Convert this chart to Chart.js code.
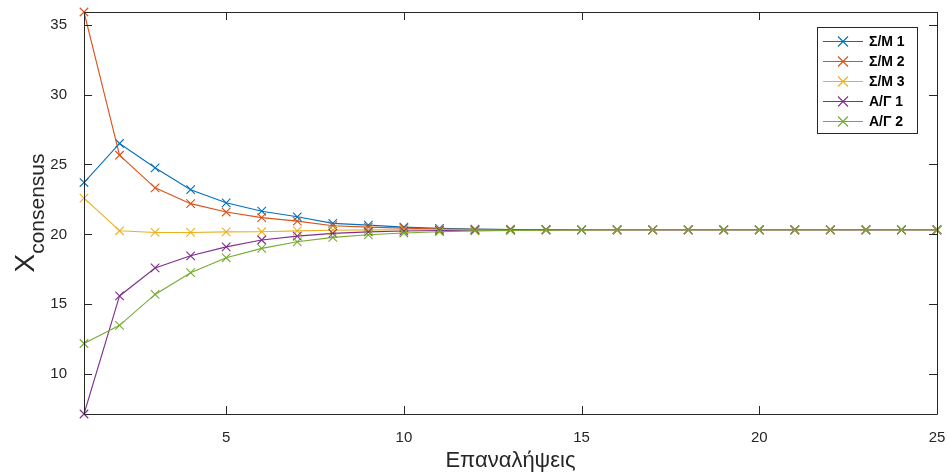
<!DOCTYPE html>
<html>
<head>
<meta charset="utf-8">
<script src="https://cdn.jsdelivr.net/npm/chart.js@4"></script>
<style>
  html, body { margin: 0; padding: 0; background: #fff; }
  #wrap { width: 948px; height: 476px; }
</style>
</head>
<body>
<div id="wrap"><canvas id="c" width="948" height="476"></canvas></div>
<script>
const iterations = Array.from({ length: 25 }, (_, i) => i + 1);

const sm1 = [23.71, 26.50, 24.76, 23.20, 22.26, 21.66, 21.26, 20.79, 20.66, 20.52, 20.43, 20.38, 20.35, 20.34, 20.33, 20.33, 20.33, 20.33, 20.33, 20.33, 20.33, 20.33, 20.33, 20.33, 20.33];
const sm2 = [35.90, 25.66, 23.33, 22.20, 21.60, 21.20, 20.95, 20.62, 20.52, 20.45, 20.39, 20.36, 20.35, 20.34, 20.33, 20.33, 20.33, 20.33, 20.33, 20.33, 20.33, 20.33, 20.33, 20.33, 20.33];
const sm3 = [22.60, 20.26, 20.14, 20.14, 20.18, 20.19, 20.25, 20.30, 20.32, 20.33, 20.33, 20.33, 20.33, 20.33, 20.33, 20.33, 20.33, 20.33, 20.33, 20.33, 20.33, 20.33, 20.33, 20.33, 20.33];
const ag1 = [7.16, 15.60, 17.60, 18.47, 19.11, 19.60, 19.88, 20.07, 20.18, 20.24, 20.28, 20.30, 20.32, 20.33, 20.33, 20.33, 20.33, 20.33, 20.33, 20.33, 20.33, 20.33, 20.33, 20.33, 20.33];
const ag2 = [12.20, 13.50, 15.71, 17.26, 18.33, 19.00, 19.47, 19.79, 19.97, 20.10, 20.19, 20.25, 20.28, 20.30, 20.32, 20.33, 20.33, 20.33, 20.33, 20.33, 20.33, 20.33, 20.33, 20.33, 20.33];

const seriesNames = ['Σ/Μ 1', 'Σ/Μ 2', 'Σ/Μ 3', 'Α/Γ 1', 'Α/Γ 2'];
const seriesColors = ['#0072BD', '#D95319', '#EDB120', '#7E2F8E', '#77AC30'];
const xTicks = [5, 10, 15, 20, 25];
const yTicks = [10, 15, 20, 25, 30, 35];

const allSeries = [sm1, sm2, sm3, ag1, ag2];
const yMin = Math.min(...allSeries.flat());
const yMax = Math.max(...allSeries.flat());

const FONT = '"Liberation Sans", Arial, sans-serif';
const AXIS = '#262626';

const datasets = allSeries.map((vals, i) => ({
    label: seriesNames[i],
    data: vals.map((v, k) => ({ x: iterations[k], y: v })),
    borderColor: seriesColors[i],
    backgroundColor: seriesColors[i],
    borderWidth: 1.1,
    pointStyle: 'crossRot',
    pointRadius: 6,
    pointBorderWidth: 1.1,
    pointHoverRadius: 6,
    tension: 0,
    order: allSeries.length - 1 - i,
    clip: false
}));

const noPad = s => { s.paddingTop = s.paddingBottom = s.paddingLeft = s.paddingRight = 0; };

// axes box with inward ticks, axis titles and a boxed legend
const matlabAxes = {
    id: 'matlabAxes',
    afterDatasetsDraw(chart) {
        const { ctx, chartArea: a, scales: { x, y } } = chart;
        const tl = 8;
        ctx.save();
        ctx.strokeStyle = AXIS;
        ctx.lineWidth = 1;
        ctx.beginPath();
        ctx.rect(a.left + 0.5, a.top + 0.5, a.right - a.left, a.bottom - a.top);
        xTicks.forEach(v => {
            const px = Math.round(x.getPixelForValue(v)) + 0.5;
            ctx.moveTo(px, a.bottom); ctx.lineTo(px, a.bottom - tl);
            ctx.moveTo(px, a.top); ctx.lineTo(px, a.top + tl);
        });
        yTicks.forEach(v => {
            const py = Math.round(y.getPixelForValue(v)) + 0.5;
            ctx.moveTo(a.left, py); ctx.lineTo(a.left + tl, py);
            ctx.moveTo(a.right, py); ctx.lineTo(a.right - tl, py);
        });
        ctx.stroke();

        // x title
        ctx.fillStyle = AXIS;
        ctx.textAlign = 'center';
        ctx.textBaseline = 'middle';
        ctx.font = '22px ' + FONT;
        ctx.fillText('Επαναλήψεις', (a.left + a.right) / 2, 461);

        // y title: X with subscript, rotated
        ctx.save();
        ctx.translate(34, (a.top + a.bottom) / 2);
        ctx.rotate(-Math.PI / 2);
        ctx.textBaseline = 'alphabetic';
        ctx.textAlign = 'left';
        ctx.font = '28px ' + FONT;
        const wX = ctx.measureText('X').width;
        ctx.font = '21px ' + FONT;
        const wSub = ctx.measureText('consensus').width;
        const start = -(wX + wSub) / 2;
        ctx.font = '28px ' + FONT;
        ctx.fillText('X', start, 0);
        ctx.font = '21px ' + FONT;
        ctx.fillText('consensus', start + wX, 10);
        ctx.restore();

        // legend
        const lx = 817, ly = 27, lw = 100, lh = 106;
        ctx.fillStyle = '#fff';
        ctx.fillRect(lx, ly, lw, lh);
        ctx.strokeStyle = AXIS;
        ctx.strokeRect(lx + 0.5, ly + 0.5, lw, lh);
        ctx.font = 'bold 14px ' + FONT;
        ctx.textAlign = 'left';
        ctx.textBaseline = 'middle';
        chart.data.datasets.forEach((ds, i) => {
            const cy = ly + 14.5 + i * 20;
            ctx.strokeStyle = ds.borderColor;
            ctx.lineWidth = 1.1;
            ctx.beginPath();
            ctx.moveTo(lx + 6, cy); ctx.lineTo(lx + 46, cy);
            const mx = lx + 26, r = 5;
            ctx.moveTo(mx - r, cy - r); ctx.lineTo(mx + r, cy + r);
            ctx.moveTo(mx + r, cy - r); ctx.lineTo(mx - r, cy + r);
            ctx.stroke();
            ctx.fillStyle = '#000';
            ctx.fillText(ds.label, lx + 52, cy + 1);
        });
        ctx.restore();
    }
};

new Chart(document.getElementById('c'), {
    type: 'line',
    data: { datasets },
    plugins: [matlabAxes],
    options: {
        responsive: false,
        animation: false,
        events: [],
        layout: { padding: { left: 0, top: 12, right: 11, bottom: 0 } },
        plugins: { legend: { display: false }, tooltip: { enabled: false } },
        scales: {
            x: {
                type: 'linear',
                min: 1,
                max: 25,
                grid: { display: false, drawTicks: false },
                border: { display: false },
                afterBuildTicks: s => { s.ticks = xTicks.map(v => ({ value: v })); },
                afterFit: s => { s.height = 62; noPad(s); },
                ticks: { padding: 15, color: AXIS, font: { family: FONT, size: 15 } }
            },
            y: {
                type: 'linear',
                min: yMin,
                max: yMax,
                grid: { display: false, drawTicks: false },
                border: { display: false },
                afterBuildTicks: s => { s.ticks = yTicks.map(v => ({ value: v })); },
                afterFit: s => { s.width = 84; noPad(s); },
                ticks: { padding: 17, color: AXIS, font: { family: FONT, size: 15 } }
            }
        }
    }
});
</script>
</body>
</html>
